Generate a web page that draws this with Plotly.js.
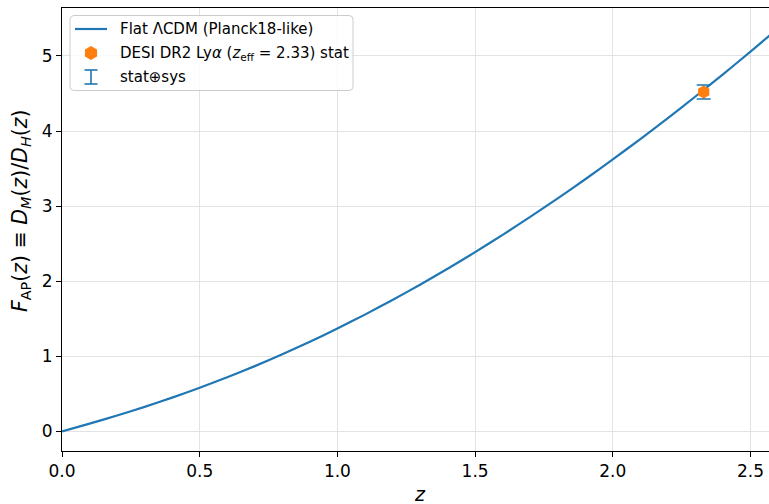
<!DOCTYPE html>
<html>
<head>
<meta charset="utf-8">
<script src="https://cdn.plot.ly/plotly-3.0.1.min.js"></script>
<style>html,body{margin:0;padding:0;background:#fff;}#chart{width:769px;height:504px;}</style>
</head>
<body>
<div id="chart"></div>
<script>
// ---- data ----
const zModel = [0.0,0.1,0.2,0.3,0.4,0.5,0.6,0.7,0.8,0.9,1.0,1.1,1.2,1.3,1.4,1.5,1.6,1.7,1.8,1.9,2.0,2.1,2.2,2.3,2.4,2.5,2.6];
const fapModel = [0.0,0.1025,0.2109,0.3262,0.4490,0.5801,0.7197,0.8684,1.0261,1.1931,1.3693,1.5546,1.7492,1.9528,2.1653,2.3867,2.6167,2.8553,3.1024,3.3578,3.6214,3.8930,4.1726,4.4598,4.7547,5.0572,5.3673];
const zDesi = [2.33];
const fapDesi = [4.52];
const errTot = [0.093];
const xTickVals = [0.0,0.5,1.0,1.5,2.0,2.5];
const yTickVals = [0,1,2,3,4,5];
const legendLabels = ["Flat ΛCDM (Planck18-like)",
  "DESI DR2 Ly<i>α</i> (<i>z</i><sub>eff</sub> = 2.33) stat",
  "stat⊕sys"];

// ---- layout geometry ----
const W = 769, H = 504, L = 62, R = 0, T = 8, B = 53;
const PW = W - L - R, PH = H - T - B;
const px = x => (x - L) / PW;
const py = y => 1 - (y - T) / PH;
const blue = '#1f77b4', orange = '#ff7f0e';
const font = 'DejaVu Sans, Liberation Sans, sans-serif';

const traces = [
  {x: zModel, y: fapModel, type: 'scatter', mode: 'lines', line: {color: blue, width: 2.2, shape: 'spline', smoothing: 0.6}, showlegend: false, hoverinfo: 'skip'},
  {x: zDesi, y: fapDesi, type: 'scatter', mode: 'markers', marker: {size: 0.1, color: blue, opacity: 0},
   error_y: {type: 'data', array: errTot, visible: true, color: blue, thickness: 1.6, width: 7}, showlegend: false},
  {x: zDesi, y: fapDesi, type: 'scatter', mode: 'markers', marker: {size: 13, color: orange, symbol: 'hexagon', line: {width: 0}}, showlegend: false}
];

// custom legend
function hexPath(cx, cy, r) {
  let s = '';
  for (let i = 0; i < 6; i++) {
    const a = Math.PI / 2 + i * Math.PI / 3;
    const x = px(cx + r * Math.cos(a)), y = py(cy - r * Math.sin(a));
    s += (i === 0 ? 'M' : 'L') + x + ',' + y;
  }
  return s + 'Z';
}
function roundRect(x0, y0, x1, y1, r) {
  const p = (x, y) => px(x) + ',' + py(y);
  return 'M' + p(x0 + r, y0) + 'L' + p(x1 - r, y0) + 'Q' + p(x1, y0) + ' ' + p(x1, y0 + r) +
    'L' + p(x1, y1 - r) + 'Q' + p(x1, y1) + ' ' + p(x1 - r, y1) +
    'L' + p(x0 + r, y1) + 'Q' + p(x0, y1) + ' ' + p(x0, y1 - r) +
    'L' + p(x0, y0 + r) + 'Q' + p(x0, y0) + ' ' + p(x0 + r, y0) + 'Z';
}
const shapes = [
  {type: 'path', xref: 'paper', yref: 'paper', path: roundRect(70, 15.5, 353, 90.5, 4), fillcolor: 'rgba(255,255,255,0.8)', line: {color: '#cccccc', width: 1}, layer: 'above'},
  {type: 'line', xref: 'paper', yref: 'paper', x0: px(75), x1: px(107), y0: py(29), y1: py(29), line: {color: blue, width: 2.2}, layer: 'above'},
  {type: 'path', xref: 'paper', yref: 'paper', path: hexPath(91, 53, 7), fillcolor: orange, line: {width: 0}, layer: 'above'},
  {type: 'line', xref: 'paper', yref: 'paper', x0: px(91), x1: px(91), y0: py(70), y1: py(84), line: {color: blue, width: 1.6}, layer: 'above'},
  {type: 'line', xref: 'paper', yref: 'paper', x0: px(84.5), x1: px(97.5), y0: py(70), y1: py(70), line: {color: blue, width: 1.6}, layer: 'above'},
  {type: 'line', xref: 'paper', yref: 'paper', x0: px(84.5), x1: px(97.5), y0: py(84), y1: py(84), line: {color: blue, width: 1.6}, layer: 'above'}
];
const legY = [29, 53, 77];
const annotations = legendLabels.map((t, i) => ({
  xref: 'paper', yref: 'paper', x: px(118), y: py(legY[i]), xanchor: 'left', yanchor: 'middle',
  text: t, showarrow: false, font: {family: font, size: 15, color: '#000'}
}));
annotations.push({xref: 'paper', yref: 'paper', x: px(21), y: py(211), xanchor: 'center', yanchor: 'middle', textangle: -90,
  text: '<i>F</i><sub>AP</sub>(<i>z</i>) ≡ <i>D</i><sub><i>M</i></sub>(<i>z</i>)/<i>D</i><sub><i>H</i></sub>(<i>z</i>)',
  showarrow: false, font: {family: font, size: 20.5, color: '#000'}});
annotations.push({xref: 'paper', yref: 'paper', x: px(420), y: py(494), xanchor: 'center', yanchor: 'middle',
  text: '<i>z</i>', showarrow: false, font: {family: font, size: 19, color: '#000'}});

const layout = {
  width: W, height: H,
  margin: {l: L, r: R, t: T, b: B, pad: 0},
  paper_bgcolor: '#fff', plot_bgcolor: '#fff',
  font: {family: font, size: 17, color: '#000'},
  xaxis: {range: [0, PW / 275.4], tickvals: xTickVals, tickformat: '.1f', ticks: 'outside', ticklen: 5, tickwidth: 1, tickcolor: '#000',
    showline: true, linecolor: '#000', linewidth: 1, mirror: true, showgrid: true, gridcolor: '#e3e3e3', gridwidth: 1, zeroline: false,
    tickfont: {family: font, size: 17}},
  yaxis: {range: [-0.262, -0.262 + PH / 75.08], tickvals: yTickVals, ticks: 'outside', ticklen: 5, tickwidth: 1, tickcolor: '#000',
    showline: true, linecolor: '#000', linewidth: 1, showgrid: true, gridcolor: '#e3e3e3', gridwidth: 1, zeroline: false,
    tickfont: {family: font, size: 17}},
  shapes: shapes, annotations: annotations, showlegend: false
};
Plotly.newPlot('chart', traces, layout, {displayModeBar: false, staticPlot: true});
</script>
</body>
</html>
